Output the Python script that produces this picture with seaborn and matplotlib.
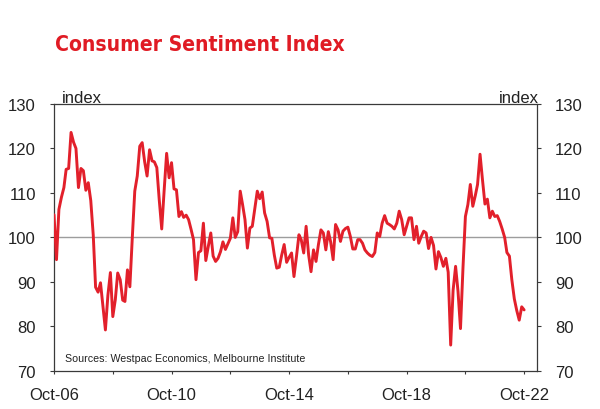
import pandas as pd
import matplotlib
matplotlib.use("Agg")
import matplotlib.pyplot as plt
import seaborn as sns

# ====================== data ======================

# Westpac-MI consumer sentiment, monthly, Oct-2006 .. Oct-2022
cs_2006 = [105.1, 95.0, 106.3]
cs_2007 = [109.0, 111.2, 115.3, 115.5, 123.6, 121.4, 120.0, 111.2, 115.5, 115.0, 110.6, 112.3]
cs_2008 = [108.3, 100.5, 88.8, 87.7, 89.8, 84.5, 79.2, 87.0, 92.1, 82.2, 86.0, 92.0]
cs_2009 = [90.5, 85.9, 85.6, 92.7, 88.9, 100.2, 110.4, 113.8, 120.5, 121.3, 117.0, 113.8]
cs_2010 = [119.7, 117.2, 117.0, 115.7, 108.5, 101.9, 110.5, 118.9, 113.4, 116.8, 110.9, 110.7]
cs_2011 = [104.7, 105.8, 104.5, 105.0, 104.0, 101.8, 99.5, 90.5, 96.6, 97.0, 103.2, 94.8]
cs_2012 = [98.0, 101.0, 95.8, 94.6, 95.3, 96.8, 99.0, 97.3, 98.6, 99.8, 104.4, 100.0]
cs_2013 = [101.3, 110.4, 107.5, 104.0, 97.6, 102.1, 102.5, 106.5, 110.4, 108.7, 110.2, 105.5]
cs_2014 = [103.6, 99.9, 99.8, 96.0, 93.1, 93.3, 96.0, 98.4, 94.4, 95.5, 96.5, 91.2]
cs_2015 = [95.7, 100.6, 99.5, 96.5, 102.5, 96.1, 92.3, 97.2, 94.6, 98.4, 101.7, 101.0]
cs_2016 = [97.2, 101.3, 99.0, 95.0, 102.9, 101.7, 99.1, 101.4, 102.0, 102.3, 100.2, 97.4]
cs_2017 = [97.4, 99.5, 99.5, 98.7, 97.2, 96.5, 96.0, 95.7, 96.6, 101.0, 100.2, 103.2]
cs_2018 = [104.9, 103.2, 102.9, 102.5, 101.9, 103.2, 105.9, 104.0, 100.6, 102.5, 104.4, 104.4]
cs_2019 = [99.5, 102.5, 98.7, 100.2, 101.4, 101.0, 97.5, 100.0, 98.2, 92.9, 96.8, 95.5]
cs_2020 = [93.5, 95.3, 92.2, 75.8, 88.1, 93.5, 87.9, 79.5, 93.2, 104.7, 107.4, 111.9]
cs_2021 = [107.0, 109.4, 111.9, 118.7, 113.0, 107.5, 108.6, 104.4, 105.9, 104.7, 104.9, 103.6]
cs_2022 = [101.9, 100.0, 96.6, 95.8, 90.5, 86.2, 83.6, 81.4, 84.4, 83.7]

first_month = "2006-10-01"
tick_dates = ["2006-10-01", "2008-10-01", "2010-10-01", "2012-10-01", "2014-10-01",
              "2016-10-01", "2018-10-01", "2020-10-01", "2022-10-01"]
tick_labels = ["Oct-06", "", "Oct-10", "", "Oct-14", "", "Oct-18", "", "Oct-22"]
y_ticks = [70, 80, 90, 100, 110, 120, 130]

values = (cs_2006 + cs_2007 + cs_2008 + cs_2009 + cs_2010 + cs_2011 + cs_2012
          + cs_2013 + cs_2014 + cs_2015 + cs_2016 + cs_2017 + cs_2018 + cs_2019
          + cs_2020 + cs_2021 + cs_2022)

df = pd.DataFrame({
    "month": pd.date_range(first_month, periods=len(values), freq="MS"),
    "sentiment": values,
})

# ====================== plot ======================

sns.set_theme(style="ticks")
plt.rcParams['font.family'] = ['Liberation Sans', 'DejaVu Sans']

RED = '#e2202b'
SPINE = '#3a3a3a'

fig = plt.figure(figsize=(6, 4.1), dpi=100)
ax = fig.add_axes([0.09, 0.093, 0.805, 0.651])

ax.axhline(100, color='#9d9d9d', lw=1.0, zorder=1)
sns.lineplot(data=df, x='month', y='sentiment', color=RED, lw=2.1, ax=ax, zorder=3)

ax.set_xlim(pd.Timestamp("2006-10-01"), pd.Timestamp("2023-03-10"))
ax.set_ylim(70, 130)
ax.set_yticks(y_ticks)
ax.set_xticks(pd.to_datetime(tick_dates))
ax.set_xticklabels(tick_labels)
ax.set_xlabel('')
ax.set_ylabel('')

for side in ['left', 'right', 'top', 'bottom']:
    ax.spines[side].set_visible(True)
    ax.spines[side].set_color(SPINE)
    ax.spines[side].set_linewidth(0.9)

ax.tick_params(axis='y', which='both', direction='out', length=3, width=0.8,
               color=SPINE, left=True, right=True, labelleft=True, labelright=True,
               labelsize=12, pad=10, labelcolor='#222222')
ax.tick_params(axis='x', direction='out', length=2.5, width=0.8, color=SPINE,
               labelsize=12, pad=9, labelcolor='#222222')

ax.text(0.017, 1.007, 'index', transform=ax.transAxes, ha='left', va='baseline',
        fontsize=12, color='#222222')
ax.text(1.004, 1.007, 'index', transform=ax.transAxes, ha='right', va='baseline',
        fontsize=12, color='#222222')

ax.text(0.022, 0.047, 'Sources: Westpac Economics, Melbourne Institute',
        transform=ax.transAxes, ha='left', va='center', fontsize=7.7,
        color='#222222')

# condensed heavy title; fall back to a smaller size if no narrow face exists
title = fig.text(55 / 600, 1 - 50.7 / 410, 'Consumer Sentiment Index', ha='left',
                 va='baseline', fontsize=20.5, fontweight='bold', color='#e01b24',
                 family='DejaVu Sans', fontstretch='condensed')

fig.canvas.draw()
bb = title.get_window_extent()
if bb.width > 300:
    title.set_fontsize(20.5 * 290 / bb.width)

fig.savefig('out.png', dpi=100, facecolor='white')
